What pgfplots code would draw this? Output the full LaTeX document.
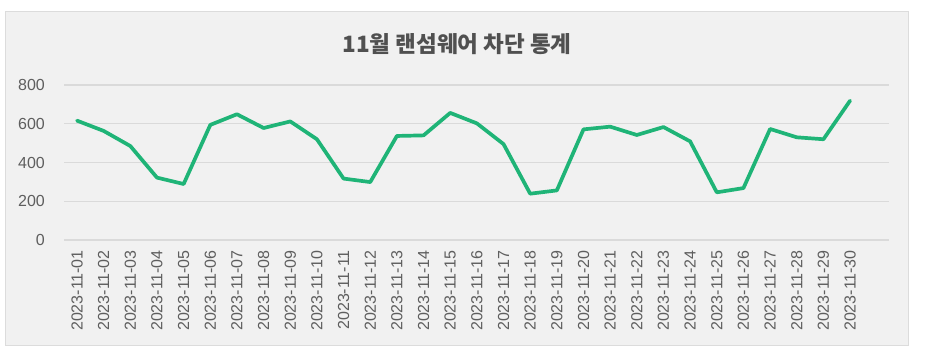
\documentclass[border=0pt]{standalone}
\usepackage{fontspec}
\setmainfont{Liberation Sans}
\newfontfamily\cjk{Noto Sans CJK KR}
\usepackage{pgfplots}
\pgfplotsset{compat=1.18}
\usetikzlibrary{backgrounds}
\definecolor{linegreen}{HTML}{1FB477}
\definecolor{panelbg}{HTML}{F1F1F1}
\definecolor{panelborder}{HTML}{DCDCDC}
\definecolor{gridcol}{HTML}{DADADA}
\definecolor{titlecol}{HTML}{505050}
\definecolor{labelcol}{HTML}{5E5E5E}
\begin{document}
\begin{tikzpicture}[x=1pt,y=1pt]
\begin{axis}[
  scale only axis, width=825pt, height=155pt,
  xmin=-0.488, xmax=30.46, ymin=0, ymax=800,
  ytick={0,200,400,600,800},
  xtick={0,...,29},
  xticklabels={2023-11-01,2023-11-02,2023-11-03,2023-11-04,2023-11-05,2023-11-06,2023-11-07,2023-11-08,2023-11-09,2023-11-10,2023-11-11,2023-11-12,2023-11-13,2023-11-14,2023-11-15,2023-11-16,2023-11-17,2023-11-18,2023-11-19,2023-11-20,2023-11-21,2023-11-22,2023-11-23,2023-11-24,2023-11-25,2023-11-26,2023-11-27,2023-11-28,2023-11-29,2023-11-30},
  ymajorgrids, grid style={draw=gridcol, line width=1.2pt},
  axis line style={draw=none},
  major tick length=0pt,
  /pgf/number format/assume math mode=true,
  xticklabel shift=10pt, yticklabel shift=19pt,
  x tick label style={rotate=90, anchor=east, font=\fontsize{16}{18}\selectfont, text=labelcol, inner sep=0pt},
  y tick label style={font=\fontsize{16}{18}\selectfont, text=labelcol, anchor=east, inner sep=0pt},
]
\coordinate (O) at (rel axis cs:0,0);
\addplot[linegreen, line width=3.7pt, line join=round, line cap=round, mark=none] table[x=x,y=y] {
x y
0 616
1 563
2 485
3 322
4 289
5 594
6 649
7 578
8 612
9 520
10 317
11 299
12 537
13 540
14 656
15 602
16 495
17 239
18 256
19 571
20 585
21 542
22 583
23 509
24 246
25 268
26 573
27 530
28 520
29 719
};
\end{axis}
\begin{scope}[shift={(O)}, xshift=-64pt, yshift=-115pt]
\path[use as bounding box] (0,0) rectangle (934,355);
\begin{scope}[on background layer]
\fill[white] (0,0) rectangle (934,355);
\filldraw[fill=panelbg, draw=panelborder, line width=1.2pt] (5.5,9.5) rectangle (908.5,343.5);
\end{scope}
\node[font=\cjk\bfseries\fontsize{22.5}{26}\selectfont, text=titlecol] at (457,311) {11월 랜섬웨어 차단 통계};
\end{scope}
\end{tikzpicture}
\end{document}
